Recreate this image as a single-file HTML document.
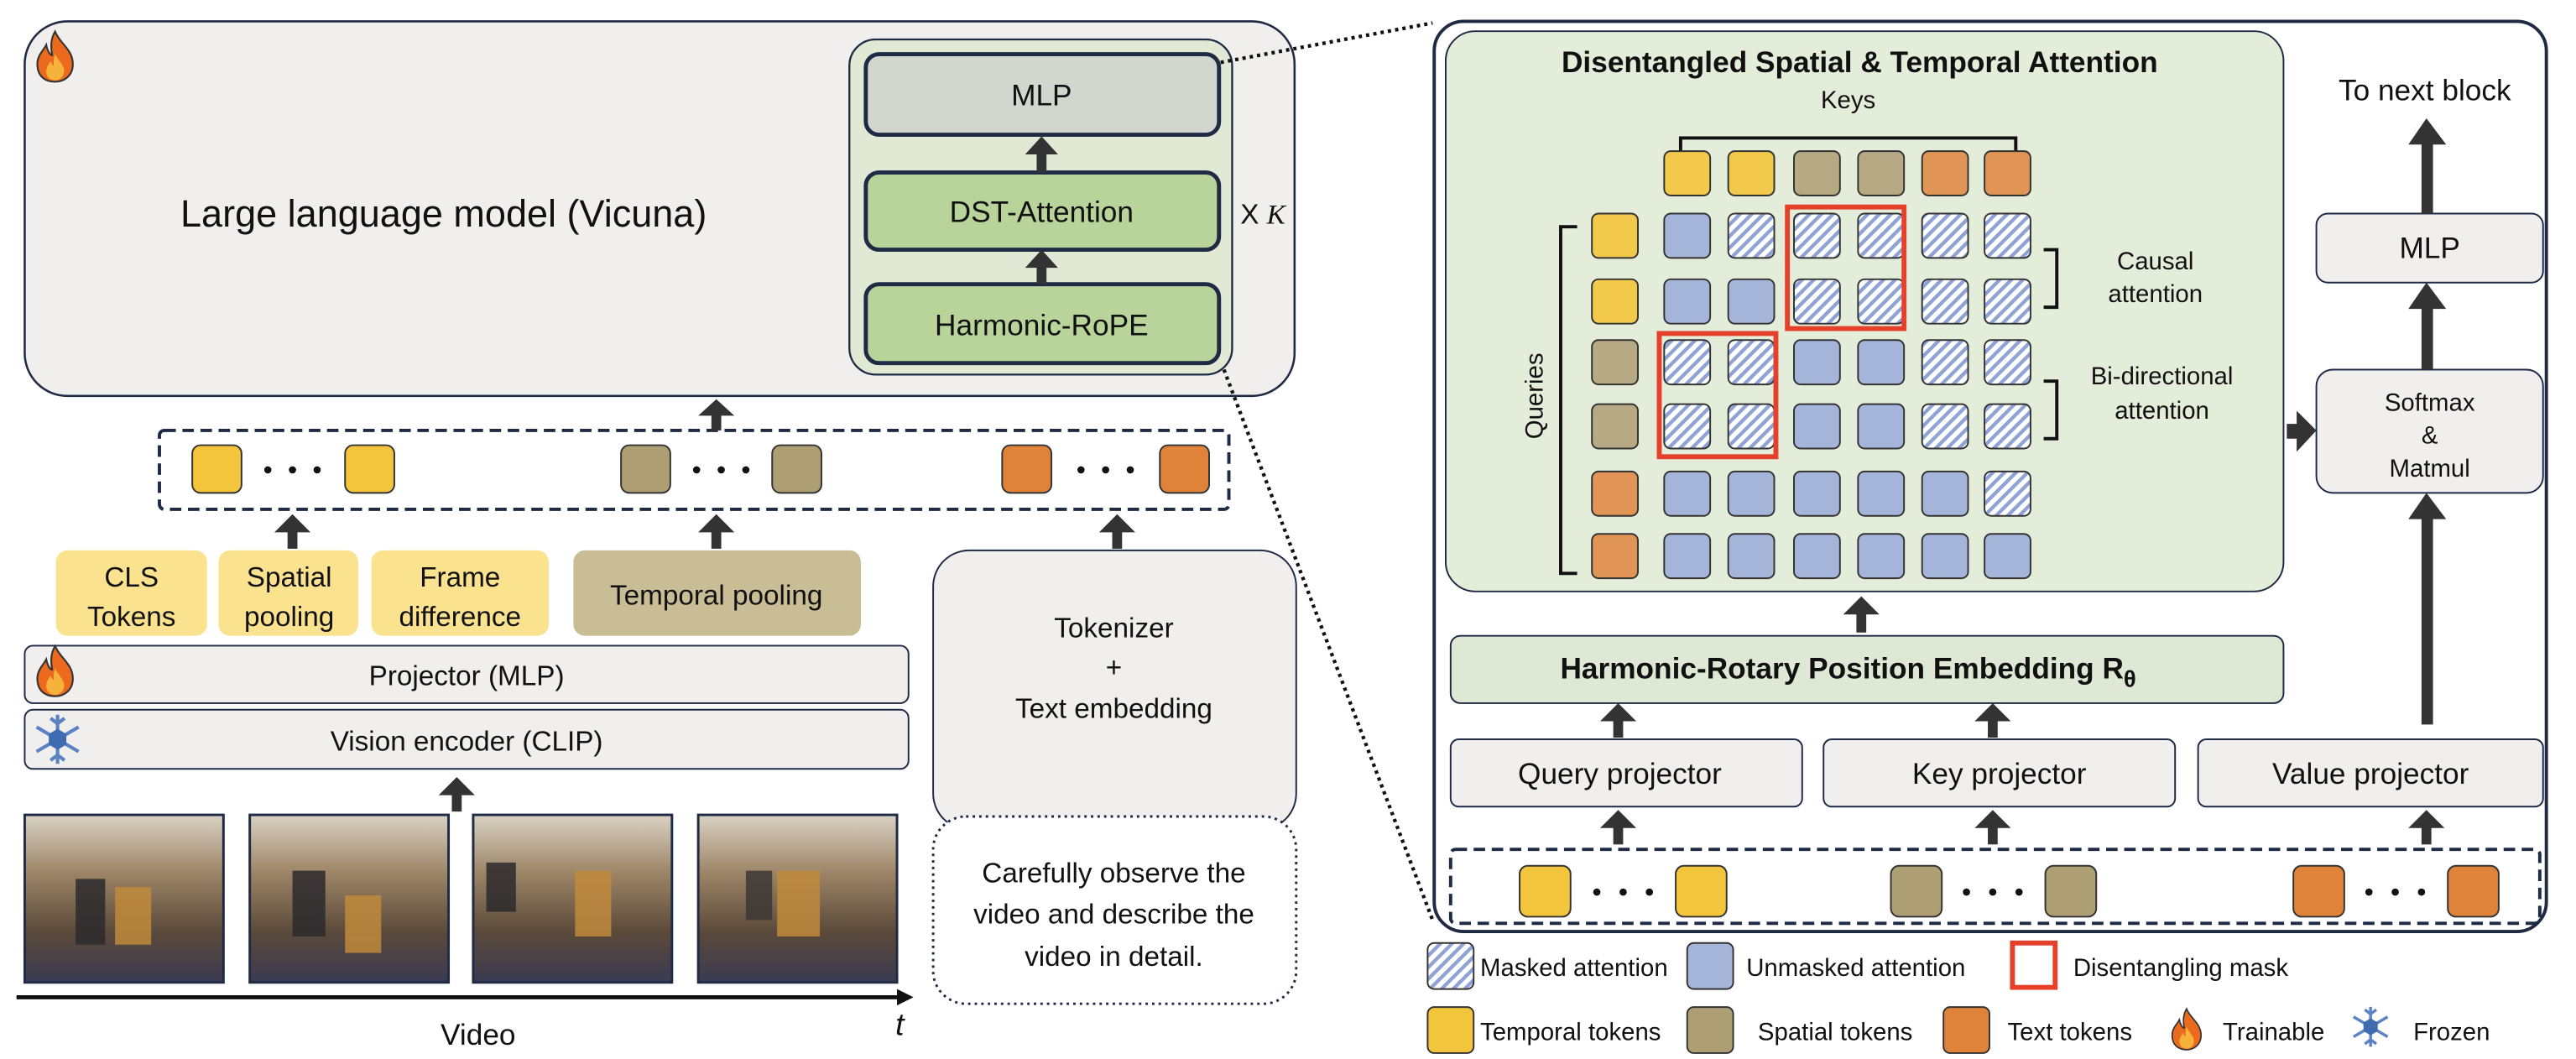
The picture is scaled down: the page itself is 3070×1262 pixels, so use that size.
<!DOCTYPE html>
<html><head><meta charset="utf-8">
<style>
html,body{margin:0;padding:0;background:#fff;}
svg{display:block;}
text{font-family:"Liberation Sans",sans-serif;fill:#111;}
</style></head>
<body>
<svg width="3070" height="1262" viewBox="0 0 1568 644.6" xmlns="http://www.w3.org/2000/svg">
<defs>
<pattern id="hatch" width="5" height="5" patternUnits="userSpaceOnUse" patternTransform="rotate(45)">
<rect width="5" height="5" fill="#ffffff"/>
<rect width="2.2" height="5" fill="#8ea3d4"/>
</pattern>
<linearGradient id="vid" x1="0" y1="0" x2="0" y2="1">
<stop offset="0" stop-color="#d9d2c4"/>
<stop offset="0.35" stop-color="#9c8466"/>
<stop offset="0.7" stop-color="#5b4a3a"/>
<stop offset="1" stop-color="#3a3a52"/>
</linearGradient>
<symbol id="fire" viewBox="0 0 30 36">
<path d="M15 1 C18 9 27 13 27 23 C27 31 21 35 15 35 C8 35 3 31 3 23 C3 17 7 14 9 10 C10 15 12 17 13 17 C12 11 12 6 15 1 Z" fill="#ec6a1d" stroke="#333" stroke-width="1.2"/>
<path d="M15 16 C17 21 22 24 21 29 C20 33 17 34 15 34 C12 34 9 32 9 28 C9 25 11 23 12 21 C13 24 14 24 14 24 C14 21 14 19 15 16 Z" fill="#f7b23b"/>
</symbol>
<symbol id="snow" viewBox="0 0 30 30">
<g stroke="#5b82c2" stroke-width="2" fill="none">
<line x1="15" y1="1" x2="15" y2="29"/><line x1="3" y1="8" x2="27" y2="22"/><line x1="3" y1="22" x2="27" y2="8"/>
<polyline points="11,3 15,6 19,3"/><polyline points="11,27 15,24 19,27"/>
</g>
<polygon points="15,9 20,12 20,18 15,21 10,18 10,12" fill="#3f6cb0"/>
</symbol>
</defs>

<!-- LLM box -->
<rect x="15" y="13" width="773" height="228" rx="26" fill="#f0efee" stroke="#1f2a44" stroke-width="1.3"/>
<use href="#fire" x="20" y="18" width="27" height="33"/>
<text x="270" y="138" font-size="23" text-anchor="middle">Large language model (Vicuna)</text>
<rect x="517" y="24" width="233" height="204" rx="16" fill="#e1e9d5" stroke="#1f2a44" stroke-width="1.2"/>
<rect x="527" y="33" width="215" height="49" rx="8" fill="#d3d6cf" stroke="#1f2a44" stroke-width="2.5"/>
<text x="634" y="64" font-size="18" text-anchor="middle">MLP</text>
<rect x="527" y="105" width="215" height="47" rx="8" fill="#b9d49b" stroke="#1f2a44" stroke-width="2.5"/>
<text x="634" y="135" font-size="18" text-anchor="middle">DST-Attention</text>
<rect x="527" y="173" width="215" height="48" rx="8" fill="#b9d49b" stroke="#1f2a44" stroke-width="2.5"/>
<text x="634" y="204" font-size="18" text-anchor="middle">Harmonic-RoPE</text>
<text x="755" y="136" font-size="17">X <tspan font-family="Liberation Serif" font-style="italic">K</tspan></text>

<g fill="#333">
<rect x="631" y="93" width="6" height="12"/><polygon points="624,94 644,94 634,83"/>
<rect x="631" y="162" width="6" height="11"/><polygon points="624,163 644,163 634,152"/>
</g>

<line x1="743" y1="38" x2="872" y2="14" stroke="#111" stroke-width="2.2" stroke-dasharray="2,2.5"/>
<line x1="745" y1="225" x2="872" y2="560" stroke="#111" stroke-width="2.2" stroke-dasharray="2,2.5"/>

<rect x="97" y="262" width="651" height="48" rx="3" fill="none" stroke="#1f2a44" stroke-width="2" stroke-dasharray="7,4"/>
<g stroke="#333" stroke-width="1">
<rect x="117" y="271" width="30" height="29" rx="5" fill="#f3c53c"/>
<rect x="210" y="271" width="30" height="29" rx="5" fill="#f3c53c"/>
<rect x="378" y="271" width="30" height="29" rx="5" fill="#ad9e74"/>
<rect x="470" y="271" width="30" height="29" rx="5" fill="#ad9e74"/>
<rect x="610" y="271" width="30" height="29" rx="5" fill="#df833b"/>
<rect x="706" y="271" width="30" height="29" rx="5" fill="#df833b"/>
</g>
<g fill="#111">
<circle cx="163" cy="286" r="2.2"/><circle cx="178" cy="286" r="2.2"/><circle cx="193" cy="286" r="2.2"/>
<circle cx="424" cy="286" r="2.2"/><circle cx="439" cy="286" r="2.2"/><circle cx="454" cy="286" r="2.2"/>
<circle cx="658" cy="286" r="2.2"/><circle cx="673" cy="286" r="2.2"/><circle cx="688" cy="286" r="2.2"/>
</g>

<g fill="#333">
<rect x="433" y="252" width="6" height="10"/><polygon points="425,253 447,253 436,243"/>
<rect x="175" y="323" width="6" height="11"/><polygon points="167,324 189,324 178,313"/>
<rect x="433" y="323" width="6" height="11"/><polygon points="425,324 447,324 436,313"/>
<rect x="677" y="323" width="6" height="11"/><polygon points="669,324 691,324 680,313"/>
<rect x="275" y="483" width="6" height="11"/><polygon points="267,484 289,484 278,473"/>
<rect x="677" y="486" width="6" height="10"/><polygon points="669,487 691,487 680,477"/>
</g>

<rect x="34" y="335" width="92" height="52" rx="7" fill="#fbe28e"/>
<text x="80" y="357" font-size="17" text-anchor="middle">CLS</text>
<text x="80" y="381" font-size="17" text-anchor="middle">Tokens</text>
<rect x="133" y="335" width="85" height="52" rx="7" fill="#fbe28e"/>
<text x="176" y="357" font-size="17" text-anchor="middle">Spatial</text>
<text x="176" y="381" font-size="17" text-anchor="middle">pooling</text>
<rect x="226" y="335" width="108" height="52" rx="7" fill="#fbe28e"/>
<text x="280" y="357" font-size="17" text-anchor="middle">Frame</text>
<text x="280" y="381" font-size="17" text-anchor="middle">difference</text>
<rect x="349" y="335" width="175" height="52" rx="7" fill="#c9bd96"/>
<text x="436" y="368" font-size="17" text-anchor="middle">Temporal pooling</text>

<rect x="15" y="393" width="538" height="35" rx="5" fill="#f0efee" stroke="#1f2a44" stroke-width="1"/>
<use href="#fire" x="20" y="392" width="27" height="33"/>
<text x="284" y="417" font-size="17" text-anchor="middle">Projector (MLP)</text>
<rect x="15" y="432" width="538" height="36" rx="5" fill="#f0efee" stroke="#1f2a44" stroke-width="1"/>
<use href="#snow" x="19" y="434" width="32" height="32"/>
<text x="284" y="457" font-size="17" text-anchor="middle">Vision encoder (CLIP)</text>

<rect x="568" y="335" width="221" height="170" rx="22" fill="#f0efee" stroke="#1f2a44" stroke-width="1"/>
<text x="678" y="388" font-size="17" text-anchor="middle">Tokenizer</text>
<text x="678" y="412" font-size="17" text-anchor="middle">+</text>
<text x="678" y="437" font-size="17" text-anchor="middle">Text embedding</text>

<rect x="568" y="497" width="221" height="114" rx="20" fill="#fff" stroke="#1f2a44" stroke-width="1.5" stroke-dasharray="1.5,2.5"/>
<text x="678" y="537" font-size="17" text-anchor="middle">Carefully observe the</text>
<text x="678" y="562" font-size="17" text-anchor="middle">video and describe the</text>
<text x="678" y="588" font-size="17" text-anchor="middle">video in detail.</text>

<g stroke="#1f2a44" stroke-width="1.5">
<rect x="15" y="496" width="121" height="102" fill="url(#vid)"/>
<rect x="152" y="496" width="121" height="102" fill="url(#vid)"/>
<rect x="288" y="496" width="121" height="102" fill="url(#vid)"/>
<rect x="425" y="496" width="121" height="102" fill="url(#vid)"/>
</g>
<g opacity="0.85">
<rect x="70" y="540" width="22" height="35" fill="#c08a3c"/><rect x="46" y="535" width="18" height="40" fill="#2c2a2e"/>
<rect x="210" y="545" width="22" height="35" fill="#c08a3c"/><rect x="178" y="530" width="20" height="40" fill="#2c2a2e"/>
<rect x="350" y="530" width="22" height="40" fill="#c08a3c"/><rect x="296" y="525" width="18" height="30" fill="#2c2a2e"/>
<rect x="473" y="530" width="26" height="40" fill="#c08a3c"/><rect x="454" y="530" width="16" height="30" fill="#3c3836"/>
</g>
<line x1="10" y1="607" x2="548" y2="607" stroke="#111" stroke-width="2.5"/>
<polygon points="546,602 556,607 546,612" fill="#111"/>
<text x="291" y="636" font-size="18" text-anchor="middle">Video</text>
<text x="545" y="630" font-size="19" font-family="Liberation Serif" font-style="italic">t</text>

<!-- RIGHT PANEL -->
<rect x="873" y="13" width="677" height="554" rx="18" fill="#fff" stroke="#1f2a44" stroke-width="2"/>
<rect x="880" y="19" width="510" height="341" rx="18" fill="#e4ecda" stroke="#1f2a44" stroke-width="1"/>
<text x="1132" y="44" font-size="18" font-weight="bold" text-anchor="middle">Disentangled Spatial &amp; Temporal Attention</text>
<text x="1125" y="66" font-size="15" text-anchor="middle">Keys</text>
<polyline points="1023,92 1023,84 1227,84 1227,92" fill="none" stroke="#111" stroke-width="2"/>
<polyline points="960,138 950,138 950,349 960,349" fill="none" stroke="#111" stroke-width="2"/>
<text transform="translate(939,241) rotate(-90)" font-size="15" text-anchor="middle">Queries</text>
<polyline points="1244,152 1252,152 1252,187 1244,187" fill="none" stroke="#111" stroke-width="2"/>
<text x="1312" y="164" font-size="15" text-anchor="middle">Causal</text>
<text x="1312" y="184" font-size="15" text-anchor="middle">attention</text>
<polyline points="1244,232 1252,232 1252,267 1244,267" fill="none" stroke="#111" stroke-width="2"/>
<text x="1316" y="234" font-size="15" text-anchor="middle">Bi-directional</text>
<text x="1316" y="255" font-size="15" text-anchor="middle">attention</text>

<g stroke="#333" stroke-width="1">
<rect x="1013" y="92" width="28" height="27" rx="4" fill="#f3c94c"/>
<rect x="1052" y="92" width="28" height="27" rx="4" fill="#f3c94c"/>
<rect x="1092" y="92" width="28" height="27" rx="4" fill="#b6a984"/>
<rect x="1131" y="92" width="28" height="27" rx="4" fill="#b6a984"/>
<rect x="1170" y="92" width="28" height="27" rx="4" fill="#e09456"/>
<rect x="1208" y="92" width="28" height="27" rx="4" fill="#e09456"/>
<rect x="969" y="130" width="28" height="27" rx="4" fill="#f3c94c"/>
<rect x="969" y="170" width="28" height="27" rx="4" fill="#f3c94c"/>
<rect x="969" y="207" width="28" height="27" rx="4" fill="#b6a984"/>
<rect x="969" y="246" width="28" height="27" rx="4" fill="#b6a984"/>
<rect x="969" y="287" width="28" height="27" rx="4" fill="#e09456"/>
<rect x="969" y="325" width="28" height="27" rx="4" fill="#e09456"/>
<rect x="1013" y="130" width="28" height="27" rx="4" fill="#a5b5da"/>
<rect x="1052" y="130" width="28" height="27" rx="4" fill="url(#hatch)"/>
<rect x="1092" y="130" width="28" height="27" rx="4" fill="url(#hatch)"/>
<rect x="1131" y="130" width="28" height="27" rx="4" fill="url(#hatch)"/>
<rect x="1170" y="130" width="28" height="27" rx="4" fill="url(#hatch)"/>
<rect x="1208" y="130" width="28" height="27" rx="4" fill="url(#hatch)"/>
<rect x="1013" y="170" width="28" height="27" rx="4" fill="#a5b5da"/>
<rect x="1052" y="170" width="28" height="27" rx="4" fill="#a5b5da"/>
<rect x="1092" y="170" width="28" height="27" rx="4" fill="url(#hatch)"/>
<rect x="1131" y="170" width="28" height="27" rx="4" fill="url(#hatch)"/>
<rect x="1170" y="170" width="28" height="27" rx="4" fill="url(#hatch)"/>
<rect x="1208" y="170" width="28" height="27" rx="4" fill="url(#hatch)"/>
<rect x="1013" y="207" width="28" height="27" rx="4" fill="url(#hatch)"/>
<rect x="1052" y="207" width="28" height="27" rx="4" fill="url(#hatch)"/>
<rect x="1092" y="207" width="28" height="27" rx="4" fill="#a5b5da"/>
<rect x="1131" y="207" width="28" height="27" rx="4" fill="#a5b5da"/>
<rect x="1170" y="207" width="28" height="27" rx="4" fill="url(#hatch)"/>
<rect x="1208" y="207" width="28" height="27" rx="4" fill="url(#hatch)"/>
<rect x="1013" y="246" width="28" height="27" rx="4" fill="url(#hatch)"/>
<rect x="1052" y="246" width="28" height="27" rx="4" fill="url(#hatch)"/>
<rect x="1092" y="246" width="28" height="27" rx="4" fill="#a5b5da"/>
<rect x="1131" y="246" width="28" height="27" rx="4" fill="#a5b5da"/>
<rect x="1170" y="246" width="28" height="27" rx="4" fill="url(#hatch)"/>
<rect x="1208" y="246" width="28" height="27" rx="4" fill="url(#hatch)"/>
<rect x="1013" y="287" width="28" height="27" rx="4" fill="#a5b5da"/>
<rect x="1052" y="287" width="28" height="27" rx="4" fill="#a5b5da"/>
<rect x="1092" y="287" width="28" height="27" rx="4" fill="#a5b5da"/>
<rect x="1131" y="287" width="28" height="27" rx="4" fill="#a5b5da"/>
<rect x="1170" y="287" width="28" height="27" rx="4" fill="#a5b5da"/>
<rect x="1208" y="287" width="28" height="27" rx="4" fill="url(#hatch)"/>
<rect x="1013" y="325" width="28" height="27" rx="4" fill="#a5b5da"/>
<rect x="1052" y="325" width="28" height="27" rx="4" fill="#a5b5da"/>
<rect x="1092" y="325" width="28" height="27" rx="4" fill="#a5b5da"/>
<rect x="1131" y="325" width="28" height="27" rx="4" fill="#a5b5da"/>
<rect x="1170" y="325" width="28" height="27" rx="4" fill="#a5b5da"/>
<rect x="1208" y="325" width="28" height="27" rx="4" fill="#a5b5da"/>
</g>
<rect x="1088" y="126" width="71" height="74" fill="none" stroke="#e5402a" stroke-width="3"/>
<rect x="1010" y="203" width="71" height="75" fill="none" stroke="#e5402a" stroke-width="3"/>

<text x="1476" y="61" font-size="18" text-anchor="middle">To next block</text>
<rect x="1410" y="130" width="138" height="42" rx="7" fill="#f0efee" stroke="#1f2a44" stroke-width="1"/>
<text x="1479" y="157" font-size="18" text-anchor="middle">MLP</text>
<rect x="1410" y="225" width="138" height="75" rx="10" fill="#f0efee" stroke="#1f2a44" stroke-width="1"/>
<text x="1479" y="250" font-size="15" text-anchor="middle">Softmax</text>
<text x="1479" y="270" font-size="15" text-anchor="middle">&amp;</text>
<text x="1479" y="290" font-size="15" text-anchor="middle">Matmul</text>
<g fill="#333">
<rect x="1474" y="86" width="7" height="44"/><polygon points="1466,88 1489,88 1477,72"/>
<rect x="1474" y="186" width="7" height="39"/><polygon points="1466,188 1489,188 1477,172"/>
<rect x="1474" y="314" width="7" height="127"/><polygon points="1466,316 1489,316 1477,300"/>
<rect x="1392" y="258" width="8" height="9"/><polygon points="1398,250 1398,275 1410,262"/>
<rect x="1130" y="373" width="6" height="12"/><polygon points="1122,374 1144,374 1133,363"/>
<rect x="982" y="438" width="6" height="11"/><polygon points="974,439 996,439 985,428"/>
<rect x="1210" y="438" width="6" height="11"/><polygon points="1202,439 1224,439 1213,428"/>
<rect x="982" y="503" width="6" height="11"/><polygon points="974,504 996,504 985,493"/>
<rect x="1210" y="503" width="6" height="11"/><polygon points="1202,504 1224,504 1213,493"/>
<rect x="1474" y="503" width="6" height="11"/><polygon points="1466,504 1488,504 1477,493"/>
</g>

<rect x="883" y="387" width="507" height="41" rx="6" fill="#dfe7d5" stroke="#1f2a44" stroke-width="1"/>
<text x="1125" y="413" font-size="18" font-weight="bold" text-anchor="middle">Harmonic-Rotary Position Embedding R<tspan font-size="14" dy="5">θ</tspan></text>
<rect x="883" y="450" width="214" height="41" rx="5" fill="#f0efee" stroke="#1f2a44" stroke-width="1"/>
<text x="986" y="477" font-size="18" text-anchor="middle">Query projector</text>
<rect x="1110" y="450" width="214" height="41" rx="5" fill="#f0efee" stroke="#1f2a44" stroke-width="1"/>
<text x="1217" y="477" font-size="18" text-anchor="middle">Key projector</text>
<rect x="1338" y="450" width="210" height="41" rx="5" fill="#f0efee" stroke="#1f2a44" stroke-width="1"/>
<text x="1443" y="477" font-size="18" text-anchor="middle">Value projector</text>

<rect x="883" y="517" width="663" height="45" rx="3" fill="none" stroke="#1f2a44" stroke-width="2" stroke-dasharray="7,4"/>
<g stroke="#333" stroke-width="1">
<rect x="925" y="527" width="31" height="31" rx="5" fill="#f3c53c"/>
<rect x="1020" y="527" width="31" height="31" rx="5" fill="#f3c53c"/>
<rect x="1151" y="527" width="31" height="31" rx="5" fill="#ad9e74"/>
<rect x="1245" y="527" width="31" height="31" rx="5" fill="#ad9e74"/>
<rect x="1396" y="527" width="31" height="31" rx="5" fill="#df833b"/>
<rect x="1490" y="527" width="31" height="31" rx="5" fill="#df833b"/>
</g>
<g fill="#111">
<circle cx="972" cy="543" r="2.2"/><circle cx="988" cy="543" r="2.2"/><circle cx="1004" cy="543" r="2.2"/>
<circle cx="1197" cy="543" r="2.2"/><circle cx="1213" cy="543" r="2.2"/><circle cx="1229" cy="543" r="2.2"/>
<circle cx="1442" cy="543" r="2.2"/><circle cx="1458" cy="543" r="2.2"/><circle cx="1474" cy="543" r="2.2"/>
</g>

<g stroke="#333" stroke-width="1">
<rect x="869" y="574" width="28" height="28" rx="4" fill="url(#hatch)"/>
<rect x="1027" y="574" width="28" height="28" rx="4" fill="#a5b5da"/>
<rect x="869" y="613" width="28" height="28" rx="4" fill="#f3c53c"/>
<rect x="1027" y="613" width="28" height="28" rx="4" fill="#ad9e74"/>
<rect x="1183" y="613" width="28" height="28" rx="4" fill="#df833b"/>
</g>
<rect x="1225" y="574" width="26" height="27" fill="none" stroke="#e5402a" stroke-width="3"/>
<text x="901" y="594" font-size="15">Masked attention</text>
<text x="1063" y="594" font-size="15">Unmasked attention</text>
<text x="1262" y="594" font-size="15">Disentangling mask</text>
<text x="901" y="633" font-size="15">Temporal tokens</text>
<text x="1070" y="633" font-size="15">Spatial tokens</text>
<text x="1222" y="633" font-size="15">Text tokens</text>
<use href="#fire" x="1320" y="613" width="22" height="27"/>
<text x="1353" y="633" font-size="15">Trainable</text>
<use href="#snow" x="1430" y="612" width="26" height="26"/>
<text x="1469" y="633" font-size="15">Frozen</text>
</svg>
</body></html>
